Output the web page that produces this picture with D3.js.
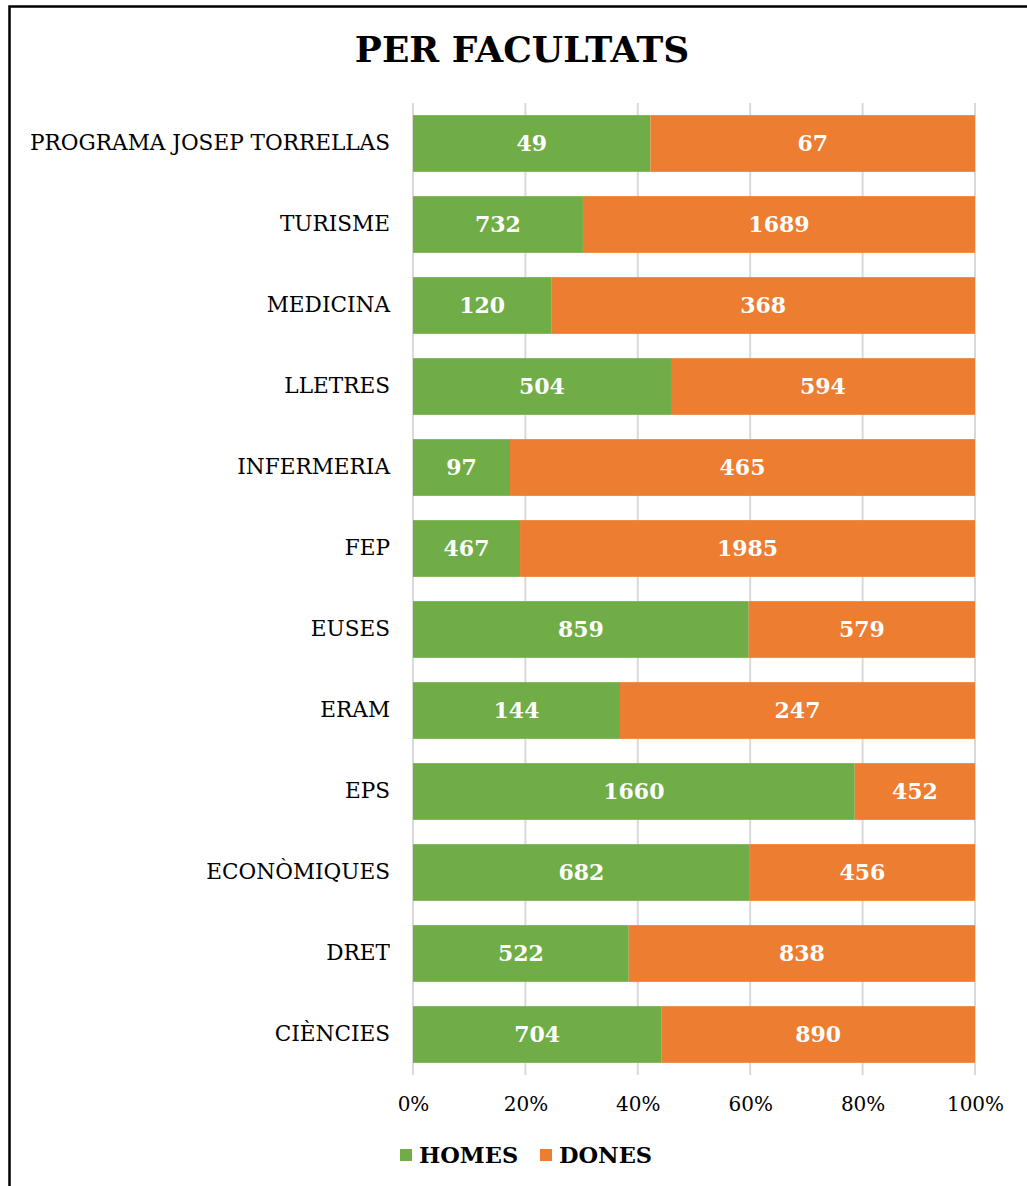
<!DOCTYPE html>
<html><head><meta charset="utf-8">
<script src="https://cdn.jsdelivr.net/npm/d3@7"></script>
<style>body{margin:0;background:#fff}svg{display:block}</style>
</head><body>
<svg id="c" width="1027" height="1186"></svg>
<script>
const categories = ["PROGRAMA JOSEP TORRELLAS","TURISME","MEDICINA","LLETRES","INFERMERIA","FEP","EUSES","ERAM","EPS","ECONÒMIQUES","DRET","CIÈNCIES"];
const homes = [49,732,120,504,97,467,859,144,1660,682,522,704];
const dones = [67,1689,368,594,465,1985,579,247,452,456,838,890];
const tickValues = [0,0.2,0.4,0.6,0.8,1];
const seriesNames = ["HOMES","DONES"];
const colors = ["#70AD47","#ED7D31"];

const FONT = "'DejaVu Serif', serif";
const svg = d3.select("#c");
svg.append("rect").attr("x",9.5).attr("y",6.5).attr("width",1200).attr("height",1300)
  .attr("fill","none").attr("stroke","#000").attr("stroke-width",2.5);

svg.append("text").attr("x",522).attr("y",62).attr("text-anchor","middle")
  .attr("font-family",FONT).attr("font-weight","bold").attr("font-size",36)
  .text("PER FACULTATS");

const x = d3.scaleLinear().domain([0,1]).range([413,975]);
const y = d3.scaleBand().domain(categories).range([103,1075]).paddingInner(0.3).paddingOuter(0.15);

// gridlines
svg.append("g").selectAll("line").data(tickValues).join("line")
  .attr("x1",d=>x(d)).attr("x2",d=>x(d)).attr("y1",103).attr("y2",1075)
  .attr("stroke","#d9d9d9").attr("stroke-width",2);

const rows = categories.map((c,i)=>{const t=homes[i]+dones[i];return {c, vals:[homes[i],dones[i]], t};});
const g = svg.append("g");
rows.forEach(r=>{
  let acc=0;
  r.vals.forEach((v,k)=>{
    const x0=x(acc/r.t), x1=x((acc+v)/r.t);
    g.append("rect").attr("x",x0).attr("y",y(r.c)).attr("width",x1-x0).attr("height",y.bandwidth()).attr("fill",colors[k]);
    g.append("text").attr("x",(x0+x1)/2).attr("y",y(r.c)+y.bandwidth()/2).attr("dy","0.35em")
      .attr("text-anchor","middle").attr("fill","#fff").attr("font-family",FONT).attr("font-weight","bold").attr("font-size",22)
      .text(v);
    acc+=v;
  });
});

// y axis labels
const ya = svg.append("g").attr("transform","translate(413,0)").call(d3.axisLeft(y).tickSize(0).tickPadding(23));
ya.select(".domain").remove();
ya.selectAll("text").attr("font-family",FONT).attr("font-size",21.6).attr("fill","#000");

// x axis labels
const xa = svg.append("g").attr("transform","translate(0,1075)").call(d3.axisBottom(x).tickValues(tickValues).tickFormat(d3.format(".0%")).tickSize(0).tickPadding(22));
xa.select(".domain").remove();
xa.selectAll("text").attr("font-family",FONT).attr("font-size",20).attr("fill","#000");

// legend
const leg = svg.append("g");
const legX=[400,540];
seriesNames.forEach((n,k)=>{
  leg.append("rect").attr("x",legX[k]).attr("y",1149).attr("width",12).attr("height",12).attr("fill",colors[k]);
  leg.append("text").attr("x",legX[k]+19).attr("y",1155).attr("dy","0.35em").attr("font-family",FONT).attr("font-weight","bold").attr("font-size",22.5).text(n);
});
</script>
</body></html>
